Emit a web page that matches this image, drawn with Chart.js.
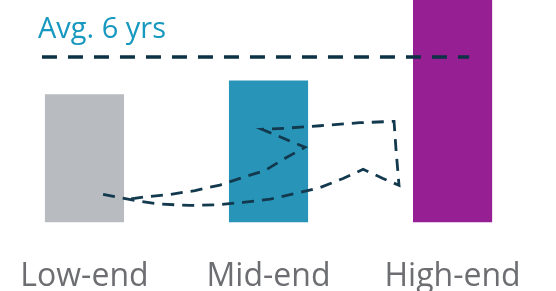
<!DOCTYPE html>
<html>
<head>
<meta charset="utf-8">
<script src="https://cdn.jsdelivr.net/npm/chart.js@4.4.1/dist/chart.umd.min.js"></script>
<style>
  html, body { margin: 0; padding: 0; background: #ffffff; overflow: hidden; }
  #wrap { position: relative; width: 556px; height: 332px; }
</style>
</head>
<body>
<div id="wrap"><canvas id="c"></canvas></div>
<script>
// ---- data ----
const categories = ['Low-end', 'Mid-end', 'High-end'];
const lifetimeYears = [4.65, 5.15, 8.1];
const barColors = ['#b8bbbf', '#2894b8', '#961f93'];
const avgValue = 6;
const avgLabel = 'Avg. 6 yrs';
const avgLineX = [-0.231, 2.09];
// hand-drawn dashed loop (x in category units, y in years)
const loopX = [0.101, 0.274, 0.410, 0.573, 0.709, 0.861, 1.008, 1.144, 1.280, 1.405, 1.514, 1.622, 1.709, 1.693, 1.682, 1.497, 1.280, 1.090, 0.965, 1.198, 1.090, 0.981, 0.861, 0.736, 0.601, 0.465, 0.329, 0.231];
const loopY = [1.02, 0.80, 0.67, 0.62, 0.64, 0.73, 0.85, 1.05, 1.27, 1.60, 1.93, 1.60, 1.35, 2.62, 3.67, 3.62, 3.51, 3.42, 3.38, 2.73, 2.33, 1.89, 1.64, 1.36, 1.16, 1.02, 0.93, 0.84];

const avgTextPlugin = {
  id: 'avgText',
  afterDatasetsDraw(chart) {
    const {ctx, scales} = chart;
    ctx.save();
    ctx.font = '29px "Open Sans"';
    ctx.fillStyle = '#1798bf';
    ctx.textBaseline = 'alphabetic';
    ctx.textAlign = 'left';
    ctx.fillText(avgLabel, scales.x.getPixelForValue(-0.253), scales.y.getPixelForValue(avgValue + 0.69));
    ctx.restore();
  }
};

new Chart(document.getElementById('c'), {
  type: 'bar',
  data: {
    datasets: [
      {
        type: 'line',
        order: 0,
        data: avgLineX.map(x => ({x: x, y: avgValue})),
        borderColor: '#0b3245',
        borderWidth: 3.5,
        borderDash: [15, 11],
        pointRadius: 0,
        pointHoverRadius: 0,
        fill: false
      },
      {
        type: 'line',
        order: 0,
        data: loopX.map((x, i) => ({x: x, y: loopY[i]})),
        borderColor: '#12394d',
        borderWidth: 2.8,
        borderDash: [12, 8],
        pointRadius: 0,
        pointHoverRadius: 0,
        tension: 0,
        fill: false
      },
      {
        type: 'bar',
        order: 1,
        data: lifetimeYears.map((v, i) => ({x: i, y: v})),
        backgroundColor: barColors,
        borderWidth: 0,
        categoryPercentage: 1,
        barPercentage: 0.43
      }
    ]
  },
  options: {
    responsive: true,
    maintainAspectRatio: false,
    animation: false,
    events: [],
    layout: { padding: 0, autoPadding: false },
    plugins: { legend: { display: false }, tooltip: { enabled: false } },
    scales: {
      x: {
        type: 'linear',
        min: -0.459,
        max: 2.562,
        offset: false,
        grid: { display: false, drawTicks: false },
        border: { display: false },
        afterBuildTicks(scale) { scale.ticks = categories.map((_, i) => ({value: i})); },
        ticks: {
          autoSkip: false,
          maxRotation: 0,
          padding: 0,
          color: '#6d6e71',
          font: { family: '"Open Sans"', size: 32, lineHeight: 3.42 },
          callback: (v) => categories[v]
        }
      },
      y: {
        min: 0,
        max: 8.07,
        display: false
      }
    }
  },
  plugins: [avgTextPlugin]
});
</script>
</body>
</html>
